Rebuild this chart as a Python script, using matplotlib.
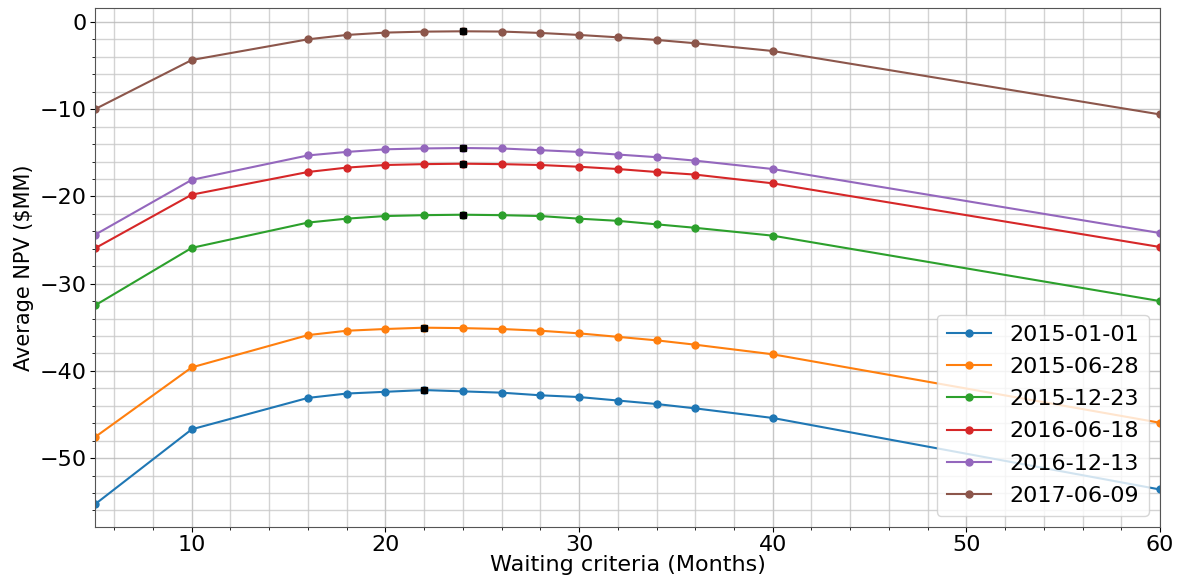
import matplotlib
matplotlib.use("Agg")
import matplotlib.pyplot as plt
import numpy as np

waiting = [5, 10, 16, 18, 20, 22, 24, 26, 28, 30, 32, 34, 36, 40, 60]
labels = ["2015-01-01", "2015-06-28", "2015-12-23", "2016-06-18", "2016-12-13", "2017-06-09"]
s_2015_01_01 = [-55.3, -46.7, -43.1, -42.6, -42.4, -42.2, -42.35, -42.5, -42.8, -43.0, -43.4, -43.8, -44.3, -45.4, -53.6]
s_2015_06_28 = [-47.6, -39.6, -35.9, -35.4, -35.2, -35.05, -35.1, -35.2, -35.4, -35.7, -36.1, -36.5, -37.0, -38.1, -45.95]
s_2015_12_23 = [-32.5, -25.9, -23.0, -22.55, -22.25, -22.15, -22.1, -22.15, -22.25, -22.55, -22.8, -23.2, -23.6, -24.5, -32.0]
s_2016_06_18 = [-25.95, -19.8, -17.2, -16.7, -16.4, -16.3, -16.25, -16.3, -16.4, -16.6, -16.86, -17.2, -17.5, -18.5, -25.8]
s_2016_12_13 = [-24.4, -18.1, -15.3, -14.9, -14.6, -14.5, -14.45, -14.5, -14.7, -14.9, -15.2, -15.5, -15.9, -16.86, -24.2]
s_2017_06_09 = [-10.0, -4.36, -1.99, -1.49, -1.22, -1.11, -1.07, -1.1, -1.26, -1.49, -1.76, -2.06, -2.44, -3.33, -10.6]
series = [s_2015_01_01, s_2015_06_28, s_2015_12_23, s_2016_06_18, s_2016_12_13, s_2017_06_09]
best_x = [22, 22, 24, 24, 24, 24]

fig = plt.figure(figsize=(11.78, 5.84), dpi=100)
ax = fig.add_axes([0.0806, 0.0976, 0.9041, 0.8887])

for lab, s in zip(labels, series):
    ax.plot(waiting, s, marker="o", markersize=5, linewidth=1.5, label=lab)
for bx, s in zip(best_x, series):
    ax.plot([bx], [s[waiting.index(bx)]], "ks", markersize=5, zorder=5)

ax.set_xlim(5, 60)
ax.set_ylim(-57.9, 1.6)
ax.minorticks_on()
ax.grid(which="major", color="#b8b8b8", linewidth=1.0, alpha=0.8)
ax.grid(which="minor", color="#c8c8c8", linewidth=1.0, alpha=0.8)
ax.set_axisbelow(True)
ax.tick_params(axis="both", which="major", labelsize=16, length=3.5, pad=2.5)
ax.tick_params(axis="both", which="minor", length=2)
ax.set_xlabel("Waiting criteria (Months)", fontsize=16, labelpad=0)
ax.set_ylabel(r"Average NPV (\$MM)", fontsize=15, labelpad=4)
ax.legend(loc="lower right", fontsize=16, handlelength=2.0, borderpad=0.45, labelspacing=0.55)
for sp in ax.spines.values():
    sp.set_color("#555555")

fig.savefig("out.png", dpi=100)
